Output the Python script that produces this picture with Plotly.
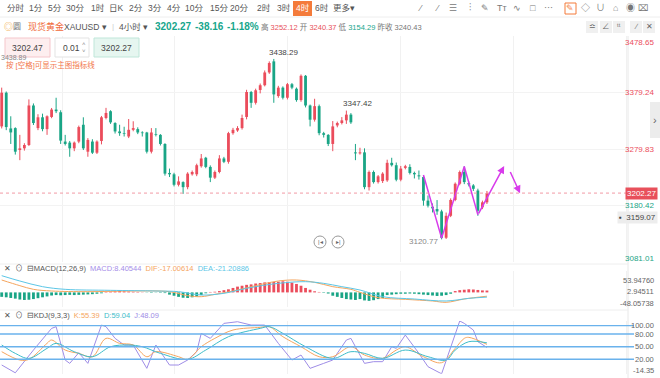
import plotly.graph_objects as go

# ---------------- data ----------------
idx = list(range(1, 109))
opens = [3319.6, 3378.9, 3316.0, 3316.6, 3278.0, 3281.0, 3286.9, 3356.4, 3316.6, 3335.6,
         3314.8, 3336.2, 3349.2, 3344.5, 3292.9, 3291.1, 3281.0, 3292.9, 3322.5, 3275.1,
         3292.9, 3273.3, 3294.0, 3334.4, 3346.3, 3325.5, 3310.7, 3307.7, 3301.8, 3313.6,
         3314.8, 3308.9, 3308.9, 3275.1, 3305.9, 3304.7, 3288.7, 3237.7, 3235.3, 3216.9,
         3221.6, 3212.7, 3235.3, 3235.3, 3249.5, 3264.4, 3248.3, 3229.4, 3239.4, 3263.2,
         3257.3, 3307.7, 3312.4, 3316.6, 3336.2, 3380.1, 3361.1, 3383.7, 3392.0, 3414.5,
         3434.0, 3373.0, 3387.8, 3370.0, 3393.8, 3385.9, 3365.9, 3408.6, 3356.4, 3331.4,
         3355.2, 3307.7, 3304.7, 3288.7, 3321.3, 3325.5, 3330.2, 3340.3, 3273.9, 3272.1,
         3273.9, 3212.7, 3239.4, 3221.6, 3223.4, 3224.6, 3255.5, 3251.3, 3225.8, 3246.6,
         3248.3, 3237.7, 3233.5, 3230.5, 3189.0, 3178.3, 3174.2, 3170.0, 3123.7, 3162.3,
         3190.2, 3218.7, 3239.4, 3219.9, 3215.7, 3206.8, 3177.1, 3186.0]
closes = [3378.9, 3318.4, 3309.0, 3275.1, 3281.0, 3286.9, 3356.4, 3325.5, 3335.6, 3314.8,
          3337.4, 3349.2, 3346.3, 3294.6, 3288.7, 3281.0, 3291.1, 3318.4, 3281.0, 3295.8,
          3273.3, 3292.9, 3335.6, 3343.3, 3326.7, 3310.7, 3307.7, 3306.5, 3313.6, 3316.6,
          3308.9, 3307.7, 3275.1, 3308.9, 3304.7, 3288.7, 3236.5, 3235.3, 3216.9, 3222.8,
          3212.7, 3236.5, 3239.4, 3251.3, 3263.2, 3248.3, 3229.4, 3239.4, 3263.2, 3257.3,
          3307.7, 3313.6, 3316.6, 3334.4, 3380.1, 3361.1, 3383.1, 3392.0, 3414.5, 3431.1,
          3375.9, 3387.8, 3370.0, 3393.8, 3387.8, 3365.9, 3408.6, 3356.4, 3331.4, 3355.2,
          3307.7, 3304.7, 3288.7, 3319.6, 3325.5, 3330.2, 3340.3, 3326.7, 3272.1, 3273.9,
          3212.7, 3239.4, 3221.6, 3231.7, 3236.5, 3255.5, 3251.3, 3225.8, 3245.4, 3249.5,
          3237.7, 3235.3, 3231.7, 3189.0, 3180.1, 3175.3, 3170.0, 3123.7, 3162.3, 3190.2,
          3218.7, 3239.4, 3221.6, 3217.5, 3209.8, 3171.2, 3186.0, 3202.27]
highs = [3387.8, 3381.0, 3337.4, 3318.0, 3304.7, 3290.0, 3367.1, 3360.0, 3341.0, 3342.0,
         3339.0, 3352.0, 3370.0, 3348.0, 3304.7, 3294.0, 3293.0, 3321.0, 3335.6, 3299.0,
         3297.0, 3295.0, 3338.0, 3352.2, 3348.0, 3327.0, 3322.5, 3319.0, 3332.6, 3328.6,
         3318.0, 3311.0, 3310.0, 3316.6, 3316.6, 3306.0, 3290.0, 3245.4, 3238.0, 3231.7,
         3223.0, 3239.0, 3242.0, 3254.0, 3271.0, 3266.0, 3251.0, 3242.0, 3269.0, 3266.0,
         3310.0, 3317.0, 3320.0, 3340.3, 3384.0, 3382.0, 3386.0, 3395.0, 3418.0, 3434.0,
         3438.29, 3391.0, 3390.0, 3396.0, 3396.0, 3388.0, 3411.0, 3410.0, 3358.0, 3368.2,
         3358.0, 3310.0, 3306.0, 3329.0, 3328.0, 3336.0, 3347.42, 3343.0, 3288.7, 3282.0,
         3281.0, 3242.0, 3242.0, 3234.0, 3239.0, 3261.0, 3264.4, 3256.0, 3250.0, 3252.0,
         3253.0, 3240.0, 3242.0, 3233.0, 3198.0, 3184.0, 3190.0, 3173.0, 3168.0, 3193.0,
         3221.0, 3242.0, 3249.5, 3223.0, 3218.0, 3210.0, 3189.0, 3206.0]
lows = [3316.0, 3313.0, 3288.7, 3270.0, 3260.2, 3277.0, 3285.0, 3322.0, 3313.0, 3311.0,
        3304.7, 3334.0, 3343.0, 3288.7, 3286.0, 3266.2, 3276.0, 3290.0, 3278.0, 3266.2,
        3271.0, 3271.0, 3288.0, 3332.0, 3324.0, 3307.0, 3303.0, 3301.8, 3299.0, 3311.0,
        3306.0, 3301.8, 3272.0, 3272.0, 3302.0, 3286.0, 3233.0, 3230.5, 3214.0, 3214.0,
        3200.9, 3209.0, 3233.0, 3232.0, 3247.0, 3246.0, 3221.6, 3227.0, 3237.0, 3255.0,
        3254.0, 3305.0, 3310.0, 3314.0, 3332.0, 3352.2, 3358.0, 3377.7, 3390.0, 3412.0,
        3361.1, 3370.0, 3367.0, 3367.0, 3385.0, 3363.0, 3363.0, 3353.0, 3319.6, 3328.0,
        3304.0, 3300.0, 3285.0, 3276.0, 3318.0, 3323.0, 3324.0, 3324.0, 3260.2, 3270.0,
        3209.0, 3206.8, 3219.0, 3219.0, 3220.0, 3222.0, 3249.0, 3223.0, 3223.0, 3244.0,
        3235.0, 3228.0, 3226.0, 3180.1, 3177.0, 3168.2, 3164.0, 3120.77, 3121.5, 3160.0,
        3188.0, 3216.0, 3218.0, 3214.0, 3206.0, 3162.3, 3174.0, 3183.0]

price_ticks = [3478.65, 3379.24, 3279.83, 3180.42, 3081.01]
last_price = 3202.27
marker_price = 3159.07

macd_hist = [-20, -22, -25, -28, -32, -34, -33, -30, -26, -22,
             -18, -14, -12, -13, -12, -11, -12, -11, -10, -9,
             -8, -6, -4, 2, 4, 5, 6, 5, 4, 3,
             2, 1, -1, -2, -1, -2, -3, -10, -15, -20,
             -24, -25, -22, -18, -12, -4, 2, 3, 6, 10,
             14, 20, 26, 30, 34, 36, 40, 42, 45, 46,
             47, 48, 50, 48, 44, 38, 30, 20, 12, 5,
             2, -2, -5, -15, -20, -25, -30, -32, -34, -30,
             -36, -38, -35, -30, -25, -12, -10, -8, -6, -6,
             -5, -6, -8, -10, -12, -14, -16, -15, -12, -6,
             6, 10, 12, 14, 13, 11, 9, 8.40544]
dif_x = [1, 5, 8, 12, 20, 30, 38, 42, 45, 48, 52, 57, 62, 66, 70, 74, 78, 80, 84, 90, 96, 99, 103, 108]
dif_y = [55.7, 30.3, 13.8, 6.3, 3.3, 6.3, 3.3, -14.7, -19.2, -8.7, 6.3, 30.3, 51.2, 55.7, 45.2, 25.8,
         13.8, 0.3, -23.7, -31.2, -38.6, -44.6, -29.7, -17.00614]
dea_x = [1, 5, 10, 15, 25, 35, 40, 45, 50, 55, 62, 68, 72, 76, 80, 85, 92, 99, 104, 108]
dea_y = [75.2, 51.2, 25.8, 13.8, 9.3, 6.3, 3.3, -11.7, -4.2, 18.3, 40.7, 48.2, 40.7, 25.8, 10.8,
         -19.2, -29.7, -38.6, -26.7, -21.20886]
macd_ticks = [53.94760, 2.94511, -48.05738]

k_x = [1, 5, 7, 11, 12, 15, 18, 21, 24, 27, 30, 33, 35, 40, 42, 45, 48, 52, 58, 60, 63, 67, 71, 74,
       78, 81, 85, 88, 90, 94, 98, 101, 103, 104, 108]
k_y = [38.1, 18.3, 19.9, 57.9, 65.8, 42.0, 34.1, 26.2, 69.7, 57.9, 53.9, 26.2, 38.1, 26.2, 19.9, 49.9,
       69.7, 89.5, 95.8, 97.4, 73.7, 49.9, 26.2, 26.2, 49.9, 30.2, 22.3, 42.0, 49.9, 26.2, 12.0, 46.0,
       69.7, 72.1, 55.39]
d_x = [1, 4, 7, 11, 13, 17, 21, 25, 29, 32, 36, 42, 46, 51, 58, 60, 63, 68, 74, 78, 81, 85, 90, 95,
       99, 101, 104, 108]
d_y = [53.9, 34.1, 22.3, 46.0, 57.9, 38.1, 26.2, 49.9, 53.9, 49.9, 34.1, 19.9, 42.0, 73.7, 93.4, 97.4,
       81.6, 49.9, 22.3, 38.1, 34.1, 22.3, 42.0, 26.2, 18.3, 42.0, 61.8, 59.04]
j_x = [1, 4, 8, 12, 13, 15, 16, 18, 20, 23, 24, 26, 28, 30, 33, 35, 38, 40, 42, 44, 45, 47, 50, 53,
       56, 59, 62, 65, 67, 69, 72, 74, 77, 78, 81, 83, 85, 87, 88, 90, 93, 95, 98, 102, 103, 105, 106, 108]
j_y = [6.5, -12.0, 42.0, 93.4, 97.4, 18.3, 10.4, 35.7, 10.4, 101.3, 97.4, 69.7, 53.9, 53.9, -1.4, 53.9,
       6.5, 6.5, 18.3, 38.1, 81.6, 69.7, 105.3, 109.2, 101.3, 101.3, 57.9, 18.3, 30.2, -1.4, 10.4, 18.3,
       65.8, 69.7, 10.4, 14.4, 14.4, 49.9, 46.0, 77.6, 34.1, 2.5, -14.35, 110.9, 105.3, 89.5, 61.8, 48.09]
kdj_levels = [100, 80, 50, 20]
kdj_labels = ["100.00", "80.00", "50.00", "20.00"]
kdj_min, kdj_max = -14.35, 110.92

# hand-drawn zigzag forecast (price-chart drawing)
zig_x = [94, 98, 103, 106]
zig_y = [3234, 3123, 3249, 3164]
arrow1 = (111.8, 3250)
arrow2_from, arrow2_to = (113.0, 3242), (115.3, 3202)

toolbar = ["分时", "1分", "5分", "30分", "1时", "日K", "2分", "3分", "4分", "10分", "15分", "20分",
           "2时", "3时", "4时", "6时", "更多▾"]

# ---------------- style ----------------
W, H = 660, 378
FONT = "Liberation Sans, Noto Sans CJK SC, sans-serif"
RED = "#EB4D5C"
GREEN = "#1AA586"
XR = 628  # right edge of plot area (px)


def pxx(v):
    return v / W


def pyy(v):
    return 1 - v / H


fig = go.Figure()

up = [c >= o for o, c in zip(opens, closes)]
colors = [RED if u else GREEN for u in up]

for flag, col in ((True, RED), (False, GREEN)):
    wx, wy = [], []
    for i, u, hi, lo in zip(idx, up, highs, lows):
        if u == flag:
            wx += [i, i, None]
            wy += [lo, hi, None]
    fig.add_trace(go.Scatter(x=wx, y=wy, mode="lines", line=dict(color=col, width=1),
                             hoverinfo="skip", xaxis="x", yaxis="y"))
fig.add_trace(go.Bar(x=idx, y=[abs(c - o) for o, c in zip(opens, closes)],
                     base=[min(o, c) for o, c in zip(opens, closes)],
                     width=0.62, marker=dict(color=colors, line=dict(width=0)),
                     xaxis="x", yaxis="y"))

MAG = "#D83BEB"
fig.add_trace(go.Scatter(x=zig_x, y=zig_y, mode="lines", line=dict(color=MAG, width=1.5),
                         xaxis="x", yaxis="y"))
fig.add_annotation(x=arrow1[0], y=arrow1[1], ax=zig_x[-1], ay=zig_y[-1], xref="x", yref="y",
                   axref="x", ayref="y", showarrow=True, arrowhead=2, arrowsize=1,
                   arrowwidth=1.5, arrowcolor=MAG, text="")
fig.add_annotation(x=arrow2_to[0], y=arrow2_to[1], ax=arrow2_from[0], ay=arrow2_from[1], xref="x",
                   yref="y", axref="x", ayref="y", showarrow=True, arrowhead=2, arrowsize=1,
                   arrowwidth=1.5, arrowcolor=MAG, text="")

mcol = [RED if v >= 0 else GREEN for v in macd_hist]
fig.add_trace(go.Bar(x=idx, y=macd_hist, width=0.62, marker=dict(color=mcol, line=dict(width=0)),
                     xaxis="x2", yaxis="y2"))
fig.add_trace(go.Scatter(x=dif_x, y=dif_y, mode="lines", line=dict(color="#F5A55E", width=1, shape="spline"),
                         xaxis="x2", yaxis="y2"))
fig.add_trace(go.Scatter(x=dea_x, y=dea_y, mode="lines", line=dict(color="#5CC6E6", width=1, shape="spline"),
                         xaxis="x2", yaxis="y2"))

fig.add_trace(go.Scatter(x=j_x, y=j_y, mode="lines", line=dict(color="#9E8CE6", width=1),
                         xaxis="x3", yaxis="y3"))
fig.add_trace(go.Scatter(x=k_x, y=k_y, mode="lines", line=dict(color="#F5A55E", width=1, shape="spline"),
                         xaxis="x3", yaxis="y3"))
fig.add_trace(go.Scatter(x=d_x, y=d_y, mode="lines", line=dict(color="#3DBCC9", width=1, shape="spline"),
                         xaxis="x3", yaxis="y3"))

xr = [0.625, 0.625 + XR / 4.535]
xdom = [0, XR / W]
xcommon = dict(range=xr, domain=xdom, showticklabels=False, zeroline=False, showline=False,
               tickmode="linear", tick0=14.3, dtick=24.9, showgrid=True, gridcolor="#F1F1F1",
               gridwidth=1, ticks="")
main_dom = [pyy(262), pyy(36)]
macd_dom = [pyy(307), pyy(271)]
kdj_dom = [pyy(373.8), pyy(321)]

fig.update_layout(
    width=W, height=H, margin=dict(l=0, r=0, t=0, b=0),
    paper_bgcolor="white", plot_bgcolor="white", showlegend=False, barmode="overlay",
    font=dict(family=FONT, size=9, color="#333"),
    xaxis=dict(anchor="y", **xcommon),
    xaxis2=dict(anchor="y2", matches="x", **xcommon),
    xaxis3=dict(anchor="y3", matches="x", **xcommon),
    yaxis=dict(domain=main_dom, range=[price_ticks[-1], price_ticks[0]], side="right",
               tickvals=price_ticks, showticklabels=False, showgrid=True, gridcolor="#F3F3F3",
               zeroline=False, ticks=""),
    yaxis2=dict(domain=macd_dom, range=[-65.6, 96.2], showticklabels=False, showgrid=False,
                zeroline=False, ticks=""),
    yaxis3=dict(domain=kdj_dom, range=[kdj_min, kdj_max], showticklabels=False, showgrid=False,
                zeroline=False, ticks=""),
)

shapes = []
shapes.append(dict(type="line", xref="paper", yref="paper", x0=pxx(XR), x1=pxx(XR), y0=0, y1=pyy(36),
                   line=dict(color="#E8E8E8", width=1)))
for yy in (17, 264, 310):
    shapes.append(dict(type="line", xref="paper", yref="paper", x0=0, x1=1 if yy == 17 else pxx(XR),
                       y0=pyy(yy), y1=pyy(yy), line=dict(color="#EEEEEE", width=1)))
shapes.append(dict(type="line", xref="paper", yref="y", x0=0, x1=pxx(XR), y0=last_price, y1=last_price,
                   line=dict(color="#F29AA4", width=1, dash="dot")))
for lv in kdj_levels:
    shapes.append(dict(type="line", xref="paper", yref="y3", x0=0, x1=pxx(634), y0=lv, y1=lv,
                       line=dict(color="#6AB2EC", width=1.4)))
shapes.append(dict(type="rect", xref="paper", yref="paper", x0=pxx(5), x1=pxx(50), y0=pyy(57), y1=pyy(38),
                   fillcolor="#FDEEEF", line=dict(color="#F5C6CB", width=1)))
shapes.append(dict(type="rect", xref="paper", yref="paper", x0=pxx(55), x1=pxx(89), y0=pyy(57), y1=pyy(38),
                   fillcolor="white", line=dict(color="#E3E3E3", width=1)))
shapes.append(dict(type="rect", xref="paper", yref="paper", x0=pxx(94), x1=pxx(139), y0=pyy(57), y1=pyy(38),
                   fillcolor="#E6F6F0", line=dict(color="#BFE6D9", width=1)))
shapes.append(dict(type="rect", xref="paper", yref="paper", x0=pxx(293), x1=pxx(312), y0=pyy(16), y1=pyy(1),
                   fillcolor="#F47B3B", line=dict(width=0)))
shapes.append(dict(type="rect", xref="paper", yref="paper", x0=pxx(565), x1=pxx(576), y0=pyy(14), y1=pyy(3),
                   fillcolor="white", line=dict(color="#F47B3B", width=1)))
shapes.append(dict(type="rect", xref="paper", yref="paper", x0=pxx(650), x1=pxx(662), y0=pyy(138), y1=pyy(102),
                   fillcolor="#ECECEC", line=dict(width=0)))
for cx in (320, 338):
    shapes.append(dict(type="circle", xref="paper", yref="paper", x0=pxx(cx - 6), x1=pxx(cx + 6),
                       y0=pyy(248), y1=pyy(236), line=dict(color="#999", width=1), fillcolor="white"))
for cx in (592, 606, 619, 636, 649):
    shapes.append(dict(type="rect", xref="paper", yref="paper", x0=pxx(cx - 6), x1=pxx(cx + 6),
                       y0=pyy(33), y1=pyy(21), fillcolor="#F0F0F0", line=dict(width=0)))
fig.update_layout(shapes=shapes)


def txt(x, y, s, size=9, color="#333", anchor="left", **kw):
    fig.add_annotation(x=pxx(x), y=pyy(y), xref="paper", yref="paper", text=s, showarrow=False,
                       xanchor=anchor, yanchor="middle", font=dict(size=size, color=color, family=FONT),
                       borderpad=0, **kw)


tb_x = [16, 36, 55, 74.5, 97.5, 116.5, 136, 155, 173.5, 194, 219, 239.5, 264, 284, 302.5, 321.5, 344]
for lab, x in zip(toolbar, tb_x):
    txt(x, 8.5, lab, size=8.5, color="white" if lab == "4时" else "#555", anchor="center")
icons = ["⁄", "⁄", "☰", "⫶", "✎", "Tт", "∿", "□", "⋯", "✎", "◇", "∪", "⌂", "◉", "⌧"]
ic_x = [420, 437, 453, 470, 485, 502, 517, 533, 548, 570, 585, 600, 615, 630, 643]
for s, x in zip(icons, ic_x):
    txt(x, 8.5, s, size=9, color="#F47B3B" if x == 570 else "#777", anchor="center")

txt(3, 26.5, "◎", size=9, color="#F0A030")
txt(12, 26.5, "圆", size=8, color="#777")
txt(27, 26.5, "现货黄金", size=9, color="#F06A3A")
txt(63, 26.5, "XAUUSD ▾", size=8.5, color="#555")
txt(111, 26.5, "|", size=8, color="#ccc")
txt(118, 26.5, "4小时 ▾", size=8.5, color="#555")
txt(154, 26.5, "<b>3202.27</b>", size=10, color="#17A68C")
txt(194, 26.5, "<b>-38.16</b>", size=10, color="#17A68C")
txt(226, 26.5, "<b>-1.18%</b>", size=10, color="#17A68C")
txt(260, 26.5, "高 <span style='color:#E8505B'>3252.12</span> 开 <span style='color:#E8505B'>3240.37</span> 低 "
               "<span style='color:#17A68C'>3154.29</span> 昨收 3240.43", size=7.5, color="#777")
for s, x in zip(["≏", "∠", "ᵗᵗ", "∕", "✕"], [592, 606, 619, 636, 649]):
    txt(x, 27, s, size=7.5, color="#666", anchor="center")

txt(27.5, 47.5, "3202.47", size=8.5, color="#444", anchor="center")
txt(62, 47.5, "0.01", size=8.5, color="#444")
txt(84, 44.5, "˄", size=6, color="#888", anchor="center")
txt(84, 50.5, "˅", size=6, color="#888", anchor="center")
txt(116.5, 47.5, "3202.27", size=8.5, color="#444", anchor="center")
txt(0, 57.5, "3438.89", size=7, color="#888")
txt(5, 65, "按 [空格]可显示主图指标线", size=7.5, color="#F2764A")

fig.add_annotation(x=61, y=highs[60], xref="x", yref="y", text="3438.29", showarrow=False,
                   xanchor="left", yanchor="bottom", xshift=-7, yshift=0,
                   font=dict(size=8, color="#444", family=FONT))
fig.add_annotation(x=77, y=highs[76], xref="x", yref="y", text="3347.42", showarrow=False,
                   xanchor="left", yanchor="bottom", xshift=-5, yshift=1,
                   font=dict(size=8, color="#444", family=FONT))
fig.add_annotation(x=98, y=lows[97], xref="x", yref="y", text="3120.77", showarrow=False,
                   xanchor="right", yanchor="middle", xshift=-2, yshift=-2,
                   font=dict(size=8, color="#888", family=FONT))

shifts = [6, 0, 0, 0, -4]
for v, sh in zip(price_ticks, shifts):
    fig.add_annotation(x=pxx(656), y=v, xref="paper", yref="y", text=f"{v:.2f}", showarrow=False,
                       xanchor="right", yanchor="middle", yshift=-sh,
                       font=dict(size=8, color=RED if v > last_price else GREEN, family=FONT))
fig.add_annotation(x=pxx(658), y=last_price, xref="paper", yref="y", text=f"{last_price:.2f}",
                   showarrow=False, xanchor="right", yanchor="middle", bgcolor="#E8505B",
                   borderpad=1, font=dict(size=8, color="white", family=FONT))
fig.add_annotation(x=pxx(658), y=marker_price, xref="paper", yref="y", text=f"▪  {marker_price:.2f}",
                   showarrow=False, xanchor="right", yanchor="middle", bgcolor="#EDEDED",
                   borderpad=1, font=dict(size=8, color="#444", family=FONT))
txt(655, 120, "›", size=11, color="#666", anchor="center")
txt(320, 242, "|◂", size=6, color="#666", anchor="center")
txt(338, 242, "▸|", size=6, color="#666", anchor="center")

txt(3, 268, "✕  ⊙  ⊟MACD(12,26,9)  <span style='color:#A58EE8'>MACD:8.40544</span>  "
            "<span style='color:#F5A55E'>DIF:-17.00614</span>  <span style='color:#5CC6E6'>DEA:-21.20886</span>",
    size=7.5, color="#555")
for v in macd_ticks:
    fig.add_annotation(x=pxx(656), y=v, xref="paper", yref="y2", text=f"{v:.5f}", showarrow=False,
                       xanchor="right", yanchor="middle", font=dict(size=7.5, color="#666", family=FONT))

txt(3, 315.5, "✕  ⊙  ⊟KDJ(9,3,3)  <span style='color:#F5A55E'>K:55.39</span>  "
              "<span style='color:#3DBCC9'>D:59.04</span>  <span style='color:#9E8CE6'>J:48.09</span>",
    size=7.5, color="#555")
for v, lab in zip(kdj_levels, kdj_labels):
    fig.add_annotation(x=pxx(656), y=v, xref="paper", yref="y3", text=lab, showarrow=False,
                       xanchor="right", yanchor="middle", font=dict(size=7.5, color="#666", family=FONT))
fig.add_annotation(x=pxx(656), y=kdj_min, xref="paper", yref="y3", text=f"{kdj_min:.2f}", showarrow=False,
                   xanchor="right", yanchor="middle", yshift=3, font=dict(size=7.5, color="#666", family=FONT))

fig.write_html("out.html", config={"displayModeBar": False, "staticPlot": True},
               post_script="document.body.style.margin='0';document.body.style.overflow='hidden';")
